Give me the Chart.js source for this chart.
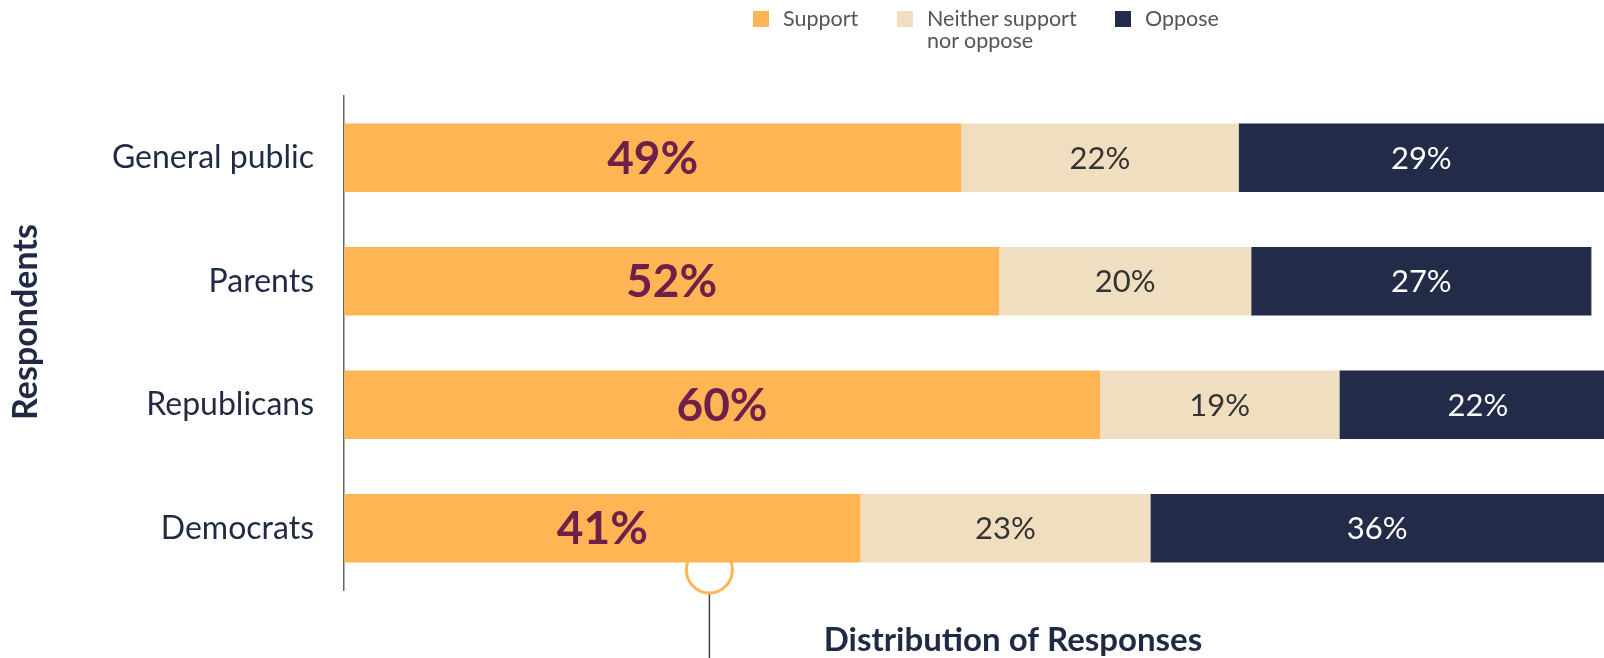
<!DOCTYPE html>
<html>
<head>
<meta charset="utf-8">
<script src="https://cdn.jsdelivr.net/npm/chart.js@4"></script>
<style>
  body { margin: 0; background: #fff; font-family: Lato, sans-serif; }
  #wrap { position: relative; width: 1604px; height: 658px; }
  .legend { position: absolute; top: 7px; font-size: 21.5px; color: #555; line-height: 22px; }
  .legend span.box { position: absolute; left: 0; top: 4px; width: 16px; height: 16px; }
  .legend span.txt { position: absolute; white-space: nowrap; }
</style>
</head>
<body>
<div id="wrap">
  <canvas id="myChart"></canvas>
  <div class="legend" style="left:753px"><span class="box" style="background:#FFB554"></span><span class="txt" style="left:30px">Support</span></div>
  <div class="legend" style="left:897px"><span class="box" style="background:#EFDFC0"></span><span class="txt" style="left:30px">Neither support<br>nor oppose</span></div>
  <div class="legend" style="left:1115px"><span class="box" style="background:#222B47"></span><span class="txt" style="left:30px">Oppose</span></div>
</div>
<script>
var categories = ['General public', 'Parents', 'Republicans', 'Democrats'];
var support = [49, 52, 60, 41];
var neither = [22, 20, 19, 23];
var oppose = [29, 27, 22, 36];
var markerAt = 29;

var navy = '#1F2A44';

// labels in the middle of every segment
var segmentLabels = {
    id: 'segmentLabels',
    afterDatasetsDraw: function(chart) {
        var c = chart.ctx;
        c.save();
        c.textAlign = 'center';
        c.textBaseline = 'middle';
        chart.data.datasets.forEach(function(ds, i) {
            var meta = chart.getDatasetMeta(i);
            meta.data.forEach(function(bar, j) {
                var p = bar.getCenterPoint();
                if (i == 0) {
                    c.font = 'bold 46px Lato';
                    c.fillStyle = '#6E1F4A';
                } else {
                    c.font = '31px Lato';
                    c.fillStyle = i == 1 ? '#333' : '#fff';
                }
                c.fillText(ds.data[j] + '%', p.x, p.y + 1);
            });
        });
        c.restore();
    }
};

// axis titles and the little ring marker under the bars
var extras = {
    id: 'extras',
    afterDraw: function(chart) {
        var c = chart.ctx;
        var area = chart.chartArea;
        var x = chart.scales.x.getPixelForValue(markerAt);
        var cy = area.bottom - 20;
        c.save();
        c.strokeStyle = '#444';
        c.lineWidth = 1.5;
        c.beginPath();
        c.moveTo(x, cy + 24);
        c.lineTo(x, chart.height);
        c.stroke();
        c.strokeStyle = '#FFB554';
        c.lineWidth = 3;
        c.beginPath();
        c.arc(x, cy, 23, 0, Math.PI * 2);
        c.stroke();

        c.fillStyle = navy;
        c.textAlign = 'center';
        c.textBaseline = 'middle';
        c.font = 'bold 33px Lato';
        c.fillText('Distribution of Responses', 1013, 640);

        c.translate(26, 322);
        c.rotate(-Math.PI / 2);
        c.font = 'bold 34px Lato';
        c.fillText('Respondents', 0, 0);
        c.restore();
    }
};

var ctx = document.getElementById('myChart').getContext('2d');
var myChart = new Chart(ctx, {
    type: 'bar',
    data: {
        labels: categories,
        datasets: [
            { label: 'Support', data: support, backgroundColor: '#FFB554' },
            { label: 'Neither support nor oppose', data: neither, backgroundColor: '#EFDFC0' },
            { label: 'Oppose', data: oppose, backgroundColor: '#222B47' }
        ]
    },
    options: {
        indexAxis: 'y',
        responsive: true,
        maintainAspectRatio: false,
        animation: false,
        datasets: { bar: { categoryPercentage: 1, barPercentage: 0.555 } },
        layout: { padding: { top: 96, bottom: 68, left: 0, right: 0 } },
        plugins: { legend: { display: false }, tooltip: { enabled: false } },
        scales: {
            x: { stacked: true, min: 0, max: 100, display: false },
            y: {
                stacked: true,
                grid: { display: false, drawTicks: false },
                border: { display: true, color: '#666', width: 1.5 },
                ticks: { color: navy, font: { family: 'Lato', size: 32 }, padding: 30 },
                afterFit: function(s) { s.width = 344; }
            }
        }
    },
    plugins: [segmentLabels, extras]
});
</script>
</body>
</html>
